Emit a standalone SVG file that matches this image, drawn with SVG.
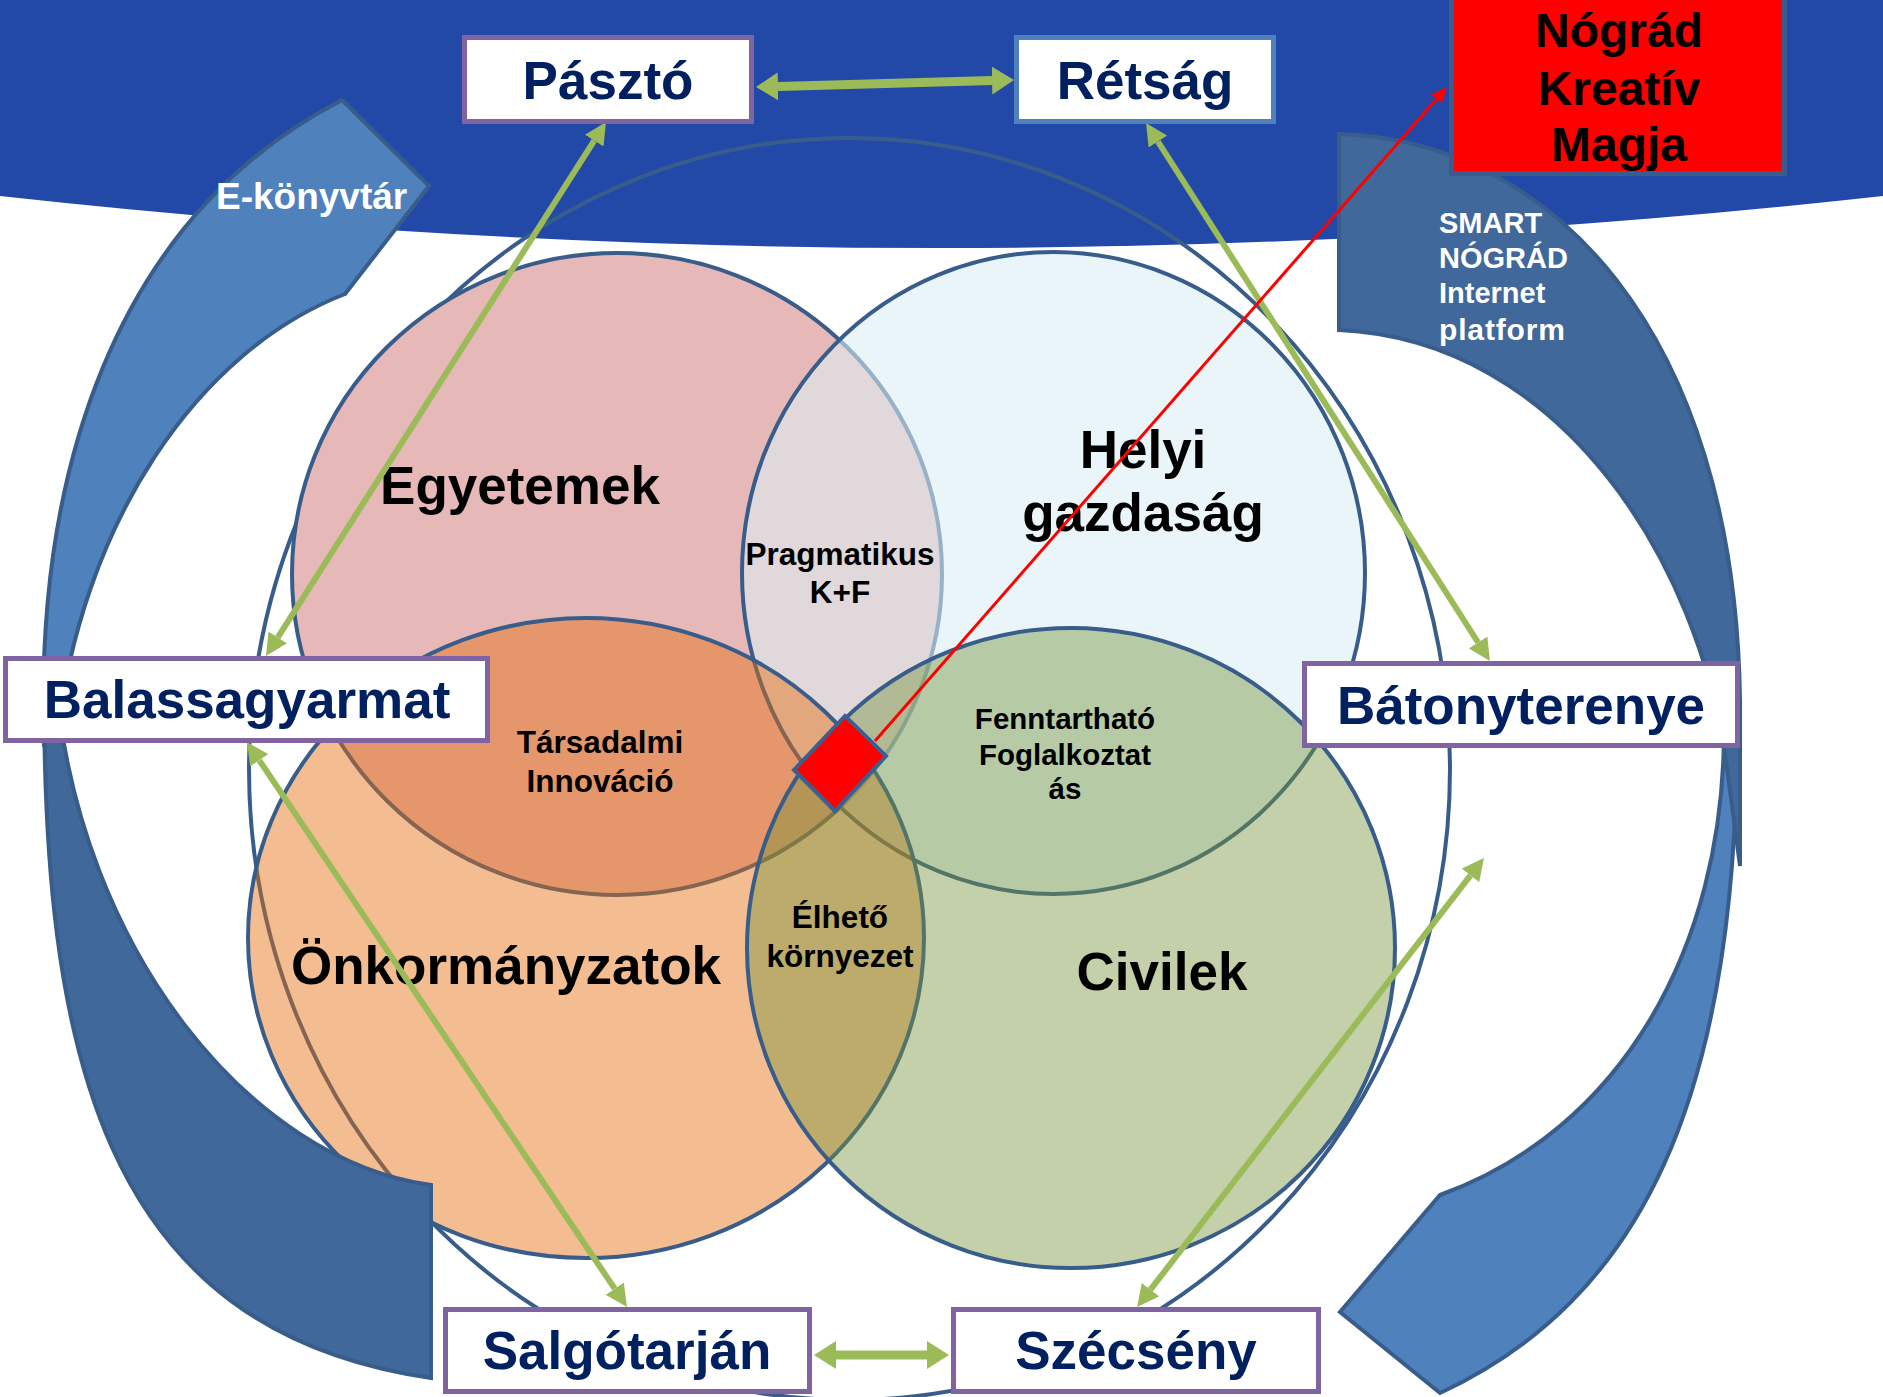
<svg xmlns="http://www.w3.org/2000/svg" width="1883" height="1397" viewBox="0 0 1883 1397">
<defs>
<style>
.venn{stroke:#385D8A;stroke-width:4}
.big{font-family:"Liberation Sans",Arial,sans-serif;font-weight:bold;font-size:53px;fill:#000;text-anchor:middle}
.small{font-family:"Liberation Sans",Arial,sans-serif;font-weight:bold;font-size:31.5px;fill:#000;text-anchor:middle}
.box{fill:#fff;stroke:#8064A2;stroke-width:5}
.boxtxt{font-family:"Liberation Sans",Arial,sans-serif;font-weight:bold;font-size:53px;fill:#002060;text-anchor:middle}
.arrowtxt{font-family:"Liberation Sans",Arial,sans-serif;font-weight:bold;fill:#fff}
.g{stroke:#9BBB59;fill:none}
.band{stroke:#385D8A;stroke-width:4}
</style>
<marker id="gh" viewBox="0 0 10 10" refX="0" refY="5" markerUnits="userSpaceOnUse" markerWidth="22" markerHeight="22" orient="auto-start-reverse">
<path d="M0,0 L10,5 L0,10 z" fill="#9BBB59"/>
</marker>
<marker id="gh2" viewBox="0 0 10 10" refX="0" refY="5" markerUnits="userSpaceOnUse" markerWidth="22" markerHeight="28" orient="auto-start-reverse" preserveAspectRatio="none">
<path d="M0,0 L10,5 L0,10 z" fill="#9BBB59"/>
</marker>
<marker id="rh" viewBox="0 0 10 10" refX="0" refY="5" markerUnits="userSpaceOnUse" markerWidth="16" markerHeight="14" orient="auto" preserveAspectRatio="none">
<path d="M0,0 L10,5 L0,10 z" fill="#FF0000"/>
</marker>
</defs>
<rect x="0" y="0" width="1883" height="1397" fill="#fff"/>
<path id="top-band" d="M0,0 H1883 V196 Q940,300 0,196 Z" fill="#2349A8"/>
<g id="outer-ellipse">
<ellipse cx="849.5" cy="769" rx="600.5" ry="631" fill="none" stroke="#385D8A" stroke-width="4"/>
</g>
<g id="egyetemek">
<ellipse class="venn" cx="617" cy="574" rx="325" ry="321" fill="#E6B9B8"/>
</g>
<g id="helyi-gazdasag">
<ellipse class="venn" cx="1053.5" cy="573" rx="311.5" ry="321" fill="#DBEEF4" fill-opacity="0.58"/>
</g>
<g id="onkormanyzatok">
<ellipse class="venn" cx="586" cy="938" rx="338" ry="320" fill="#E46C0A" fill-opacity="0.45"/>
</g>
<g id="civilek">
<ellipse class="venn" cx="1071" cy="948" rx="324" ry="320" fill="#77933C" fill-opacity="0.44"/>
</g>
<g id="venn-labels">
<text class="big" x="520" y="504">Egyetemek</text>
<text class="big" x="1143" y="468">Helyi</text>
<text class="big" x="1143" y="531">gazdaság</text>
<text class="big" x="506" y="984">Önkormányzatok</text>
<text class="big" x="1162" y="990">Civilek</text>
<text class="small" x="840" y="565">Pragmatikus</text>
<text class="small" x="840" y="603">K+F</text>
<text class="small" x="600" y="753">Társadalmi</text>
<text class="small" x="600" y="792">Innováció</text>
<text class="small" x="1065" y="729" style="font-size:29.5px">Fenntartható</text>
<text class="small" x="1065" y="765" style="font-size:29.5px">Foglalkoztat</text>
<text class="small" x="1065" y="799" style="font-size:29.5px">ás</text>
<text class="small" x="840" y="928">Élhető</text>
<text class="small" x="840" y="967">környezet</text>
</g>
<g id="e-konyvtar-arrow">
<path class="band" d="M342,100 L429,186 L345,294 C200,350 80,520 56,745 L44,745 C35,480 110,220 342,100 Z" fill="#4F81BD"/>
<path class="band" d="M44,672 C42,1050 100,1330 431,1378 L431,1185 C250,1160 80,950 56,684 Z" fill="#41689A"/>
<text class="arrowtxt" x="216" y="209" style="font-size:37px">E-könyvtár</text>
</g>
<g id="smart-nograd-arrow">
<path class="band" d="M1737,730 L1724,730 C1724,950 1620,1130 1440,1195 L1340,1312 L1440,1393 C1640,1300 1737,1100 1737,730 Z" fill="#4F81BD"/>
<path class="band" d="M1339,134 C1550,140 1735,330 1740,700 L1740,866 L1727,768 C1700,560 1560,340 1339,330 Z" fill="#41689A"/>
<text class="arrowtxt" style="font-size:29px" x="1439" y="233">SMART</text>
<text class="arrowtxt" style="font-size:29px" x="1439" y="268">NÓGRÁD</text>
<text class="arrowtxt" style="font-size:29px" x="1439" y="303">Internet</text>
<text class="arrowtxt" style="font-size:30px" x="1439" y="340" textLength="126" lengthAdjust="spacing">platform</text>
</g>
<g id="nograd-kreativ-magja">
<rect x="1451.5" y="-10" width="333" height="183.5" fill="#FF0000" stroke="#3A5C8C" stroke-width="5"/>
<text class="big" x="1619" y="47" style="font-size:48px">Nógrád</text>
<text class="big" x="1619" y="105" style="font-size:48px">Kreatív</text>
<text class="big" x="1619" y="161" style="font-size:48px">Magja</text>
</g>
<g id="center-diamond">
<polygon points="845,716 886,756 835,811 794,770" fill="#FF0000" stroke="#3C5F8F" stroke-width="4"/>
</g>
<g id="connectors">
<line class="g" x1="778" y1="86.4" x2="992" y2="80.6" stroke-width="9" marker-start="url(#gh2)" marker-end="url(#gh2)"/>
<line class="g" x1="594.2" y1="140.6" x2="277.8" y2="637.4" stroke-width="6" marker-start="url(#gh)" marker-end="url(#gh)"/>
<line class="g" x1="1157.9" y1="141.5" x2="1478.1" y2="642.5" stroke-width="6" marker-start="url(#gh)" marker-end="url(#gh)"/>
<line class="g" x1="259.3" y1="760.3" x2="614.7" y2="1288.7" stroke-width="6" marker-start="url(#gh)" marker-end="url(#gh)"/>
<line class="g" x1="836" y1="1355" x2="927" y2="1355" stroke-width="9" marker-start="url(#gh2)" marker-end="url(#gh2)"/>
<line class="g" x1="1150.5" y1="1289.6" x2="1470.5" y2="875.4" stroke-width="6" marker-start="url(#gh)" marker-end="url(#gh)"/>
<line x1="875" y1="741" x2="1436.5" y2="99" stroke="#FF0000" stroke-width="3" marker-end="url(#rh)"/>
</g>
<g id="paszto">
<rect class="box" x="464.5" y="37.5" width="287" height="84"/>
<text class="boxtxt" x="608" y="99">Pásztó</text>
</g>
<g id="retsag">
<rect class="box" x="1016.5" y="37.5" width="257" height="84" style="stroke:#4F81BD"/>
<text class="boxtxt" x="1145" y="99">Rétság</text>
</g>
<g id="balassagyarmat">
<rect class="box" x="5.5" y="658.5" width="482" height="82"/>
<text class="boxtxt" x="247" y="718">Balassagyarmat</text>
</g>
<g id="batonyterenye">
<rect class="box" x="1304.5" y="663.5" width="433" height="82"/>
<text class="boxtxt" x="1521" y="724">Bátonyterenye</text>
</g>
<g id="salgotarjan">
<rect class="box" x="445.5" y="1309.5" width="364" height="82"/>
<text class="boxtxt" x="627" y="1369">Salgótarján</text>
</g>
<g id="szecseny">
<rect class="box" x="953.5" y="1309.5" width="365" height="82"/>
<text class="boxtxt" x="1136" y="1369">Szécsény</text>
</g>
</svg>
